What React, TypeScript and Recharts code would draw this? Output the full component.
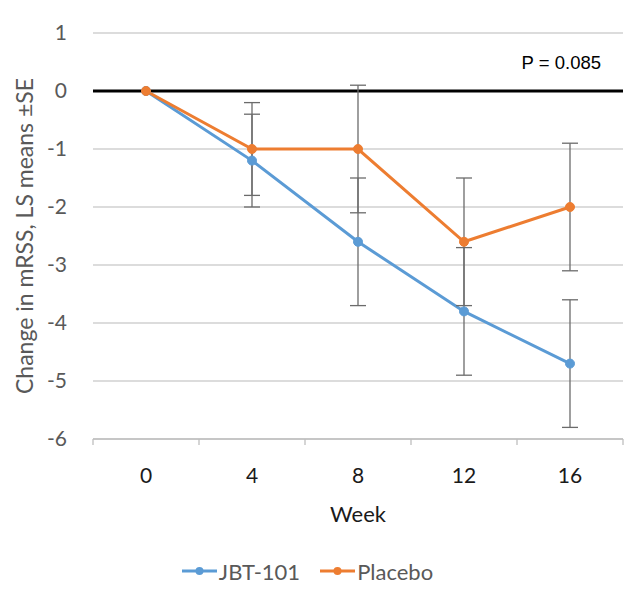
import {
  CartesianGrid,
  ErrorBar,
  Legend,
  Line,
  LineChart,
  ReferenceLine,
  XAxis,
  YAxis,
} from 'recharts'

const weeks = ['0', '4', '8', '12', '16']
const jbt101 = [0, -1.2, -2.6, -3.8, -4.7]
const placebo = [0, -1, -1, -2.6, -2]
const jbt101SE = [null, 0.8, 1.1, 1.1, 1.1]
const placeboSE = [null, 0.8, 1.1, 1.1, 1.1]
const yTicks = [-6, -5, -4, -3, -2, -1, 0, 1]
const pValueText = 'P = 0.085'

const data = weeks.map((week, i) => ({
  week,
  jbt: jbt101[i],
  jbtErr: jbt101SE[i],
  placebo: placebo[i],
  placeboErr: placeboSE[i],
}))

const W = 636
const H = 608
const PLOT_LEFT = 93
const PLOT_RIGHT = 13
const BAND = (W - PLOT_LEFT - PLOT_RIGHT) / weeks.length
const FONT = "Lato, 'Open Sans', sans-serif"
const BLUE = '#5b9bd5'
const ORANGE = '#ed7d31'

function WeekTick(props: any) {
  const { x, y, payload, index } = props
  const last = index === weeks.length - 1
  return (
    <g>
      <line x1={x - BAND / 2} x2={x - BAND / 2} y1={y} y2={y + 6} stroke="#bfbfbf" strokeWidth={1.3} />
      {last && (
        <line x1={x + BAND / 2} x2={x + BAND / 2} y1={y} y2={y + 6} stroke="#bfbfbf" strokeWidth={1.3} />
      )}
      <text x={x} y={y + 44} textAnchor="middle" fontSize={21} fill="#1a1a1a" fontFamily={FONT}>
        {payload.value}
      </text>
    </g>
  )
}

function LegendIcon({ color }: { color: string }) {
  return (
    <svg width={35} height={12} style={{ marginRight: 2 }}>
      <line x1={0} x2={35} y1={6} y2={6} stroke={color} strokeWidth={3} />
      <circle cx={17.5} cy={6} r={4} fill={color} />
    </svg>
  )
}

function ChartLegend() {
  return (
    <div
      style={{
        display: 'flex',
        justifyContent: 'center',
        alignItems: 'center',
        gap: 20,
        height: 30,
        paddingRight: 8,
        fontFamily: FONT,
        fontSize: 22,
        color: '#595959',
      }}
    >
      <span style={{ display: 'flex', alignItems: 'center' }}>
        <LegendIcon color={BLUE} />
        JBT-101
      </span>
      <span style={{ display: 'flex', alignItems: 'center' }}>
        <LegendIcon color={ORANGE} />
        Placebo
      </span>
    </div>
  )
}

export default function App() {
  return (
    <div style={{ position: 'absolute', left: 0, top: 0, width: W, height: H, background: '#fff' }}>
      <LineChart
        width={W}
        height={H}
        data={data}
        margin={{ top: 33, right: PLOT_RIGHT, left: 0, bottom: 22 }}
        style={{ fontFamily: FONT }}
      >
        <CartesianGrid vertical={false} stroke="#d0d0d0" strokeWidth={1.3} />
        <XAxis
          dataKey="week"
          type="category"
          padding={{ left: BAND / 2, right: BAND / 2 }}
          height={117}
          stroke="#bfbfbf"
          strokeWidth={1.3}
          tickLine={false}
          tickSize={0}
          tickMargin={0}
          tick={<WeekTick />}
          interval={0}
          label={{
            value: 'Week',
            position: 'insideTop',
            offset: 67,
            fill: '#1a1a1a',
            fontSize: 22,
            fontFamily: FONT,
          }}
        />
        <YAxis
          type="number"
          domain={[-6, 1]}
          ticks={yTicks}
          interval={0}
          width={PLOT_LEFT}
          axisLine={false}
          tickLine={false}
          tickMargin={20}
          tick={{ fill: '#595959', fontSize: 21, fontFamily: FONT }}
          label={{
            value: 'Change in mRSS, LS means ±SE',
            angle: -90,
            position: 'insideLeft',
            offset: 25,
            fill: '#595959',
            fontSize: 23,
            fontFamily: FONT,
            style: { textAnchor: 'middle' },
          }}
        />
        <ReferenceLine
          y={0}
          stroke="#000"
          strokeWidth={3}
          label={{
            value: pValueText,
            position: 'insideBottomRight',
            offset: 22,
            fill: '#000',
            fontSize: 18.5,
            fontFamily: "'Liberation Sans', Arial, sans-serif",
          }}
        />
        <Line
          dataKey="jbt"
          name="JBT-101"
          stroke={BLUE}
          strokeWidth={3}
          dot={{ r: 4.5, fill: BLUE, stroke: BLUE, strokeWidth: 1 }}
          isAnimationActive={false}
        >
          <ErrorBar dataKey="jbtErr" width={8} stroke="#6b6b6b" strokeWidth={1.3} />
        </Line>
        <Line
          dataKey="placebo"
          name="Placebo"
          stroke={ORANGE}
          strokeWidth={3}
          dot={{ r: 4.5, fill: ORANGE, stroke: ORANGE, strokeWidth: 1 }}
          isAnimationActive={false}
        >
          <ErrorBar dataKey="placeboErr" width={8} stroke="#6b6b6b" strokeWidth={1.3} />
        </Line>
        <Legend verticalAlign="bottom" content={<ChartLegend />} />
      </LineChart>
    </div>
  )
}
